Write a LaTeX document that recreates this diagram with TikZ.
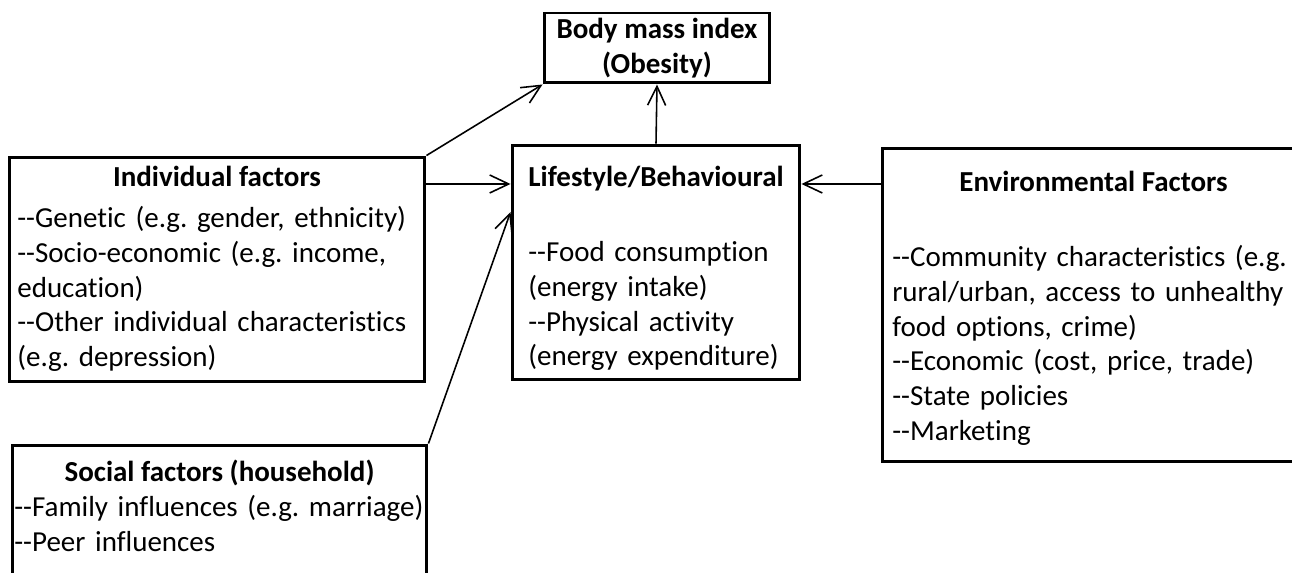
\documentclass[tikz,border=0pt]{standalone}
\usepackage{fontspec}
\setmainfont{Carlito}[Ligatures={TeX,NoCommon}]
\usetikzlibrary{arrows.meta,positioning}
\usepackage{xcolor}
\definecolor{Ink}{HTML}{000000}
\newcommand{\itemdash}{\mbox{-}\mbox{-}}
\newcommand{\bodyfont}{\fontsize{16.5}{19.7}\selectfont\frenchspacing}

\begin{document}
\begin{tikzpicture}[x=0.02cm,y=-0.02cm,
  factorbox/.style={draw=Ink,line width=1.7pt,rectangle,inner sep=0pt},
  headtext/.style={font=\bodyfont\bfseries,text=Ink,inner sep=0pt,anchor=base},
  listtext/.style={font=\bodyfont,text=Ink,inner sep=0pt,anchor=base west,text width=8.6cm,align=left},
  link/.style={draw=Ink,line width=0.9pt,-{Straight Barb[length=3.8mm,width=3.6mm]}}]
\useasboundingbox (0,0) rectangle (1292,573);
% outcome
\node[factorbox,minimum width=4.52cm,minimum height=1.4cm,font=\bodyfont\bfseries,align=center] (bmi) at (657,48) {Body mass index\\(Obesity)};
% lifestyle
\node[factorbox,minimum width=5.76cm,minimum height=4.7cm] (life) at (656,262.5) {};
\node[headtext] (lifehead) at (656,187) {Lifestyle/Behavioural};
\node[listtext] (lifelist) at (528,262) {\itemdash Food consumption\\(energy intake)\\\itemdash Physical activity\\(energy expenditure)};
% individual
\node[factorbox,minimum width=8.32cm,minimum height=4.5cm] (indiv) at (217,269.5) {};
\node[headtext] (indivhead) at (217,187) {Individual factors};
\node[listtext] (indivlist) at (17,228) {\itemdash Genetic (e.g. gender, ethnicity)\\\itemdash Socio-economic (e.g. income,\\education)\\\itemdash Other individual characteristics\\(e.g. depression)};
% social
\node[factorbox,minimum width=8.3cm,minimum height=3.1cm] (social) at (219.5,522.5) {};
\node[headtext] (socialhead) at (219.5,482) {Social factors (household)};
\node[listtext] (sociallist) at (14,517) {\itemdash Family influences (e.g. marriage)\\\itemdash Peer influences};
% environment
\node[factorbox,minimum width=8.46cm,minimum height=6.28cm] (env) at (1093.5,305) {};
\node[headtext] (envhead) at (1093.5,192) {Environmental Factors};
\node[listtext] (envlist) at (892,267) {\itemdash Community characteristics (e.g.\\rural/urban, access to unhealthy\\food options, crime)\\\itemdash Economic (cost, price, trade)\\\itemdash State policies\\\itemdash Marketing};
% links
\coordinate (feedin) at (512,184);
\coordinate (socialin) at (512,212);
\draw[link] (indiv.north east) -- (bmi.south west);
\draw[link] (life.north) -- (bmi.south);
\draw[link] (indiv.east |- feedin) -- (life.west |- feedin);
\draw[link] (env.west |- feedin) -- (life.east |- feedin);
\draw[link] (social.north east) -- (life.west |- socialin);
\end{tikzpicture}
\end{document}
